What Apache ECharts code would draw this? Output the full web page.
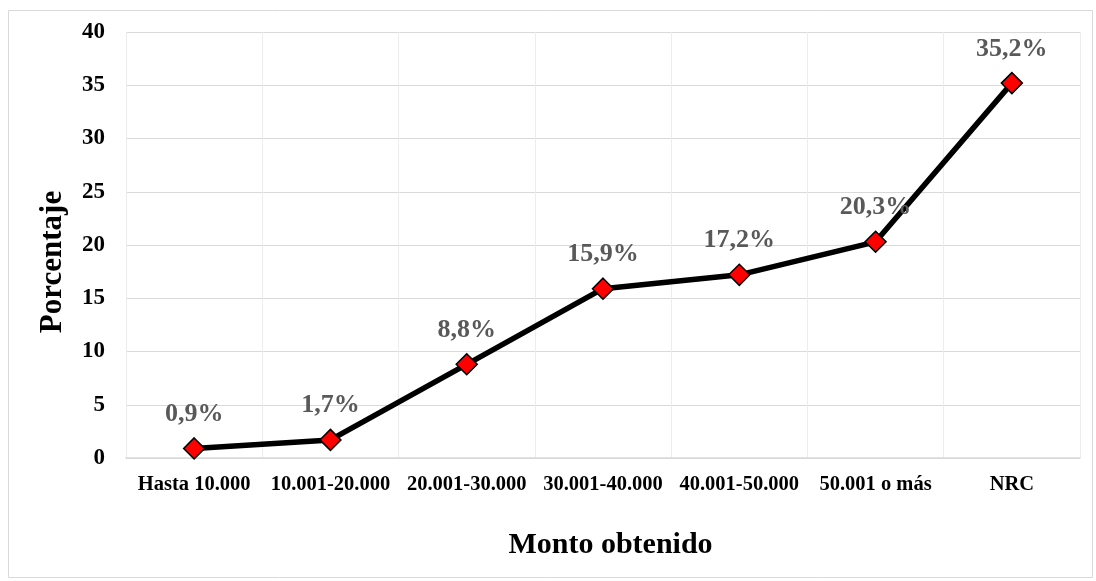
<!DOCTYPE html>
<html>
<head>
<meta charset="utf-8">
<script src="https://cdn.jsdelivr.net/npm/echarts@6/dist/echarts.min.js"></script>
<style>
  html, body { margin: 0; padding: 0; background: #ffffff; }
  #chart { width: 1096px; height: 581px; }
</style>
</head>
<body>
<div id="chart"></div>
<script>
// Amount ranges and share of respondents (%)
const categories = ['Hasta 10.000', '10.001-20.000', '20.001-30.000', '30.001-40.000', '40.001-50.000', '50.001 o más', 'NRC'];
const percentages = [0.9, 1.7, 8.8, 15.9, 17.2, 20.3, 35.2];
const yTicks = { min: 0, max: 40, interval: 5 };

const serif = '"Liberation Serif", "Times New Roman", serif';

const chart = echarts.init(document.getElementById('chart'), null, { renderer: 'canvas' });

chart.setOption({
  backgroundColor: '#ffffff',
  animation: false,
  graphic: [{
    type: 'rect',
    shape: { x: 8.5, y: 10.5, width: 1084, height: 567 },
    style: { fill: 'none', stroke: '#d9d9d9', lineWidth: 1 },
    silent: true
  }],
  grid: { left: 126, right: 16, top: 32, bottom: 123, containLabel: false },
  xAxis: {
    type: 'category',
    data: categories,
    boundaryGap: true,
    name: 'Monto obtenido',
    nameLocation: 'middle',
    nameGap: 72,
    nameTextStyle: { fontFamily: serif, fontWeight: 'bold', fontSize: 30, color: '#000000', padding: [0, 0, 0, 15] },
    axisLine: { show: true, lineStyle: { color: '#d9d9d9', width: 1.5 } },
    axisTick: { show: false },
    axisLabel: { fontFamily: serif, fontWeight: 'bold', fontSize: 20.5, color: '#000000', margin: 16, interval: 0 },
    splitLine: { show: true, lineStyle: { color: '#ececec', width: 1 } }
  },
  yAxis: {
    type: 'value',
    min: yTicks.min,
    max: yTicks.max,
    interval: yTicks.interval,
    name: 'Porcentaje',
    nameLocation: 'middle',
    nameGap: 58,
    nameRotate: 90,
    nameTextStyle: { fontFamily: serif, fontWeight: 'bold', fontSize: 31, color: '#000000', padding: [0, 34, 0, 0] },
    axisLine: { show: false },
    axisTick: { show: false },
    axisLabel: { fontFamily: serif, fontWeight: 'bold', fontSize: 23, color: '#000000', margin: 21 },
    splitLine: { show: true, lineStyle: { color: '#d9d9d9', width: 1 } }
  },
  series: [{
    type: 'line',
    data: percentages,
    symbol: 'diamond',
    symbolSize: 21,
    itemStyle: { color: '#ff0000', borderColor: '#000000', borderWidth: 1.5 },
    lineStyle: { color: '#000000', width: 5.5 },
    label: {
      show: true,
      position: 'top',
      distance: 10,
      fontFamily: serif,
      fontWeight: 'bold',
      fontSize: 26,
      color: '#595959',
      formatter: p => p.value.toFixed(1).replace('.', ',') + '%'
    }
  }]
});
</script>
</body>
</html>
